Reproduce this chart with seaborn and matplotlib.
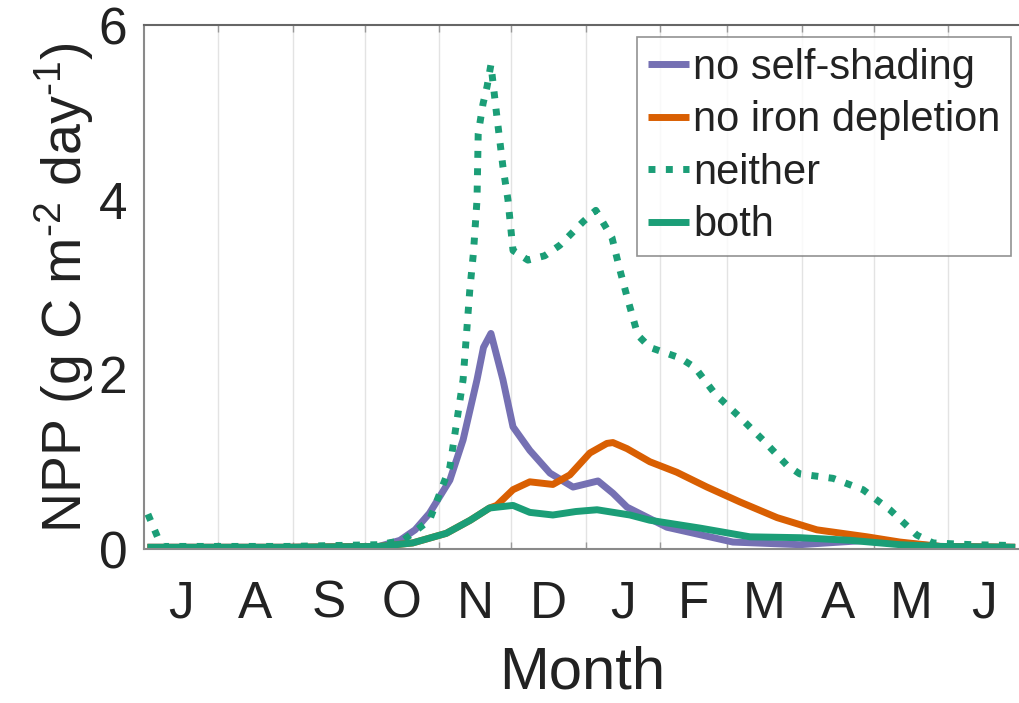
import matplotlib
matplotlib.use("Agg")
import matplotlib.pyplot as plt
import seaborn as sns
import numpy as np

# ---- data (days since 1 July) ----
month_labels = ["J", "A", "S", "O", "N", "D", "J", "F", "M", "A", "M", "J"]
month_lengths = [31, 31, 30, 31, 30, 31, 31, 28, 31, 30, 31, 30]

selfshade_day = [1.5, 60, 98, 106.7, 113, 119, 127.5, 133, 138.8, 141.5, 144.6, 149.6, 153.8,
                 160.8, 169.2, 178.8, 189.2, 195.4, 201.3, 217.9, 245.4, 273.3, 301.3, 315,
                 331.7, 363]
selfshade_val = [0.02, 0.02, 0.03, 0.10, 0.22, 0.41, 0.79, 1.25, 1.94, 2.31, 2.47, 1.94, 1.40,
                 1.13, 0.87, 0.71, 0.78, 0.64, 0.48, 0.25, 0.08, 0.05, 0.10, 0.07,
                 0.03, 0.02]

iron_day = [1.5, 60, 98, 112, 126, 136, 144, 147, 153.8, 160.8, 170.4, 177.5, 185.8, 192.9,
            195.4, 201.3, 210.8, 222, 234.6, 248.3, 263.8, 280.4, 301.3, 315, 331.7, 363]
iron_val = [0.02, 0.02, 0.03, 0.07, 0.18, 0.33, 0.47, 0.50, 0.68, 0.77, 0.74, 0.85, 1.10, 1.21,
            1.22, 1.15, 1.00, 0.88, 0.71, 0.54, 0.36, 0.22, 0.14, 0.08, 0.03, 0.02]

neither_day = [1.7, 6, 8, 60, 98, 108, 119, 127.5, 133, 135.8, 137.3, 138.8, 139.3, 141.3, 143,
               144.6, 147.1, 149.6, 151.7, 153.8, 160, 167, 173.3, 183, 188.3, 195, 198.3,
               201.3, 205.8, 210.8, 223.3, 229.6, 237.9, 248.3, 257.9, 267.9, 273.3, 287.1,
               299.6, 310.8, 322, 328.7, 345, 363]
neither_val = [0.40, 0.12, 0.03, 0.03, 0.05, 0.10, 0.33, 0.94, 1.94, 2.97, 3.39, 4.00, 4.76, 5.10,
               5.30, 5.55, 4.95, 4.38, 4.00, 3.42, 3.31, 3.36, 3.48, 3.75, 3.88, 3.57, 3.20,
               2.89, 2.45, 2.31, 2.19, 2.08, 1.78, 1.51, 1.25, 0.96, 0.86, 0.81,
               0.68, 0.45, 0.16, 0.07, 0.05, 0.04]

both_day = [1.5, 60, 98, 112, 126, 136, 144, 153.8, 160.8, 170.4, 180, 188.8, 202.5, 210.8,
            231.7, 252.5, 273.3, 294.2, 315, 331.7, 363]
both_val = [0.02, 0.02, 0.03, 0.07, 0.18, 0.33, 0.47, 0.50, 0.42, 0.39, 0.43, 0.45, 0.39, 0.33,
            0.24, 0.14, 0.13, 0.10, 0.05, 0.03, 0.02]

c_purple = "#7570b3"
c_orange = "#d95f02"
c_green = "#1b9e77"

sns.set_style("white")
plt.rcParams["font.family"] = ["Liberation Sans", "DejaVu Sans"]
plt.rcParams["mathtext.fontset"] = "custom"
plt.rcParams["mathtext.rm"] = "Liberation Sans"
plt.rcParams["mathtext.it"] = "Liberation Sans"
plt.rcParams["mathtext.default"] = "regular"

fig = plt.figure(figsize=(10.2, 7.03), dpi=100)
ax = fig.add_axes([0.141, 0.219, 0.859, 0.745])

lw = 5
sns.lineplot(x=selfshade_day, y=selfshade_val, ax=ax, color=c_purple, linewidth=lw,
             label="no self-shading", sort=True, estimator=None)
sns.lineplot(x=iron_day, y=iron_val, ax=ax, color=c_orange, linewidth=lw,
             label="no iron depletion", sort=True, estimator=None)
sns.lineplot(x=neither_day, y=neither_val, ax=ax, color=c_green, linewidth=lw,
             linestyle=(0, (1, 1.5)), label="neither", sort=True, estimator=None)
sns.lineplot(x=both_day, y=both_val, ax=ax, color=c_green, linewidth=lw,
             label="both", sort=True, estimator=None)
for ln in ax.get_lines():
    ln.set_dash_capstyle("butt")
    ln.set_solid_capstyle("butt")

bounds = np.cumsum([0] + month_lengths)
centers = (bounds[:-1] + bounds[1:]) / 2

ax.set_xlim(0, 365)
ax.set_ylim(0, 6)
ax.set_xticks(centers)
ax.set_xticklabels(month_labels)
ax.set_xticks(bounds[1:-1], minor=True)
ax.set_yticks([0, 2, 4, 6])
ax.grid(False)
ax.grid(True, which="minor", axis="x", color="#e3e3e3", linewidth=1)

ax.tick_params(axis="x", which="major", length=0, labelsize=37, pad=22, colors="#222222")
ax.tick_params(axis="x", which="minor", direction="in", length=5, width=1,
               color="#999999", top=True, bottom=True)
ax.tick_params(axis="y", which="major", direction="in", length=5, width=1,
               color="#999999", labelsize=37, pad=12, labelcolor="#222222")

for side in ["left", "bottom"]:
    ax.spines[side].set_color("#8a8a8a")
    ax.spines[side].set_linewidth(1.5)
ax.spines["top"].set_color("#666666")
ax.spines["top"].set_linewidth(1.5)
ax.spines["right"].set_visible(False)

ax.set_xlabel("Month", fontsize=43, color="#222222", labelpad=12)
ax.set_ylabel(r"NPP (g C m$^{\text{-2}}$ day$^{\text{-1}}$)", fontsize=40, color="#222222",
              labelpad=2)

leg = ax.legend(loc="upper right", bbox_to_anchor=(0.99, 0.977), fontsize=30,
                handlelength=1.0, handletextpad=0.1, labelspacing=0.3,
                borderpad=0.25, borderaxespad=0.0, frameon=True, fancybox=False)
leg.get_frame().set_edgecolor("#777777")
leg.get_frame().set_linewidth(1.2)
for t in leg.get_texts():
    t.set_color("#222222")

fig.savefig("out.png", dpi=100, facecolor="white")
